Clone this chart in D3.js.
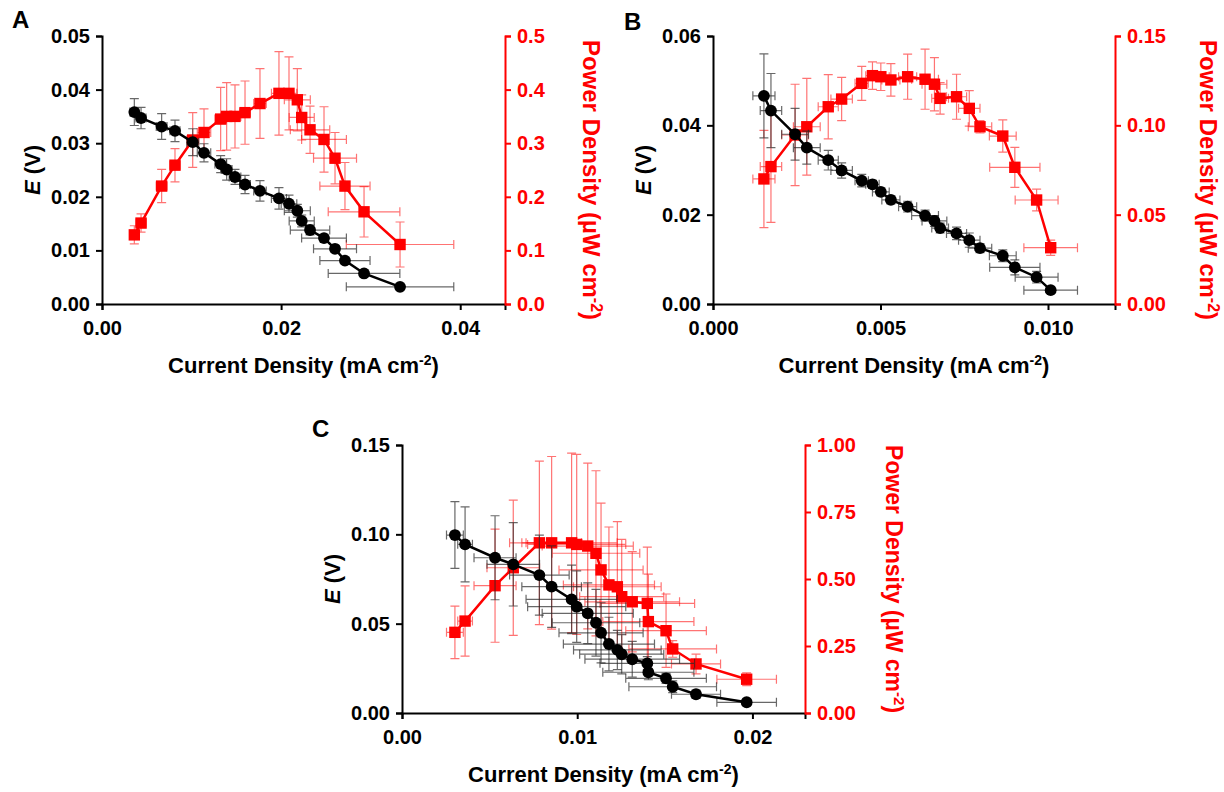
<!DOCTYPE html>
<html>
<head>
<meta charset="utf-8">
<script src="https://cdn.jsdelivr.net/npm/d3@7"></script>
<style>
  body { margin: 0; background: #fff; }
  text { font-family: "Liberation Sans", Arial, sans-serif; font-weight: bold; }
</style>
</head>
<body>
<script>
// ---- panel A ----
var aCurrent = [0.00361, 0.00436, 0.00666, 0.00815, 0.01013, 0.01139, 0.01325, 0.01392, 0.01485, 0.01597, 0.01764,
  0.01976, 0.02088, 0.02181, 0.0223, 0.02323, 0.02479, 0.02602, 0.02713, 0.02926, 0.03328];
var aCurrentErr = [0.0005, 0.00056, 0.0006, 0.00056, 0.00067, 0.00075, 0.00064, 0.0006, 0.00065, 0.0006, 0.0007,
  0.00084, 0.00087, 0.00145, 0.0014, 0.0022, 0.0025, 0.0024, 0.0028, 0.004, 0.006];
var aPotential = [0.0358, 0.0347, 0.0331, 0.0323, 0.0302, 0.0282, 0.0261, 0.0251, 0.0237, 0.0223, 0.0211,
  0.0197, 0.0187, 0.0174, 0.0155, 0.0138, 0.0123, 0.0103, 0.0081, 0.0057, 0.0032];
var aPotentialErr = [0.0025, 0.002, 0.0024, 0.002, 0.0025, 0.0017, 0.0016, 0.002, 0.0014, 0.0017, 0.0019,
  0.002, 0.0016, 0.0012, 0.0011, 0.0009, 0.0007, 0.0006, 0.0005, 0.0004, 0.0003];
var aPower = [0.129, 0.151, 0.220, 0.259, 0.306, 0.320, 0.345, 0.350, 0.350, 0.357, 0.374,
  0.393, 0.393, 0.381, 0.348, 0.325, 0.307, 0.272, 0.220, 0.172, 0.111];
var aPowerErr = [0.017, 0.017, 0.031, 0.031, 0.051, 0.044, 0.059, 0.063, 0.059, 0.059, 0.065,
  0.078, 0.068, 0.058, 0.042, 0.044, 0.061, 0.048, 0.044, 0.047, 0.042];

// ---- panel B ----
var bCurrent = [0.00152, 0.00173, 0.00245, 0.0028, 0.00344, 0.00384, 0.00444, 0.00476, 0.00501, 0.00531, 0.00581,
  0.00633, 0.00661, 0.00678, 0.00727, 0.00765, 0.00797, 0.00865, 0.00901, 0.00966, 0.01008];
var bCurrentErr = [0.00033, 0.00032, 0.0004, 0.0004, 0.0003, 0.00032, 0.0002, 0.0002, 0.00025, 0.00027, 0.00027,
  0.0004, 0.00037, 0.00025, 0.0003, 0.00032, 0.00035, 0.0004, 0.00075, 0.00064, 0.0008];
var bPotential = [0.0466, 0.0433, 0.0380, 0.0350, 0.0322, 0.0299, 0.0276, 0.0268, 0.0251, 0.0233, 0.0218,
  0.0198, 0.0186, 0.0170, 0.0158, 0.0143, 0.0125, 0.0108, 0.0082, 0.0060, 0.0031];
var bPotentialErr = [0.0094, 0.0083, 0.0058, 0.0037, 0.0022, 0.0017, 0.0014, 0.0009, 0.0009, 0.0009, 0.0012,
  0.0012, 0.0012, 0.0011, 0.0014, 0.0016, 0.001, 0.0013, 0.0017, 0.0013, 0.0007];
var bPower = [0.0700, 0.0769, 0.0946, 0.0992, 0.1104, 0.1147, 0.1235, 0.1278, 0.1272, 0.1254, 0.1272,
  0.1258, 0.1230, 0.1151, 0.1160, 0.1095, 0.0992, 0.0940, 0.0765, 0.0582, 0.0315];
var bPowerErr = [0.0272, 0.0312, 0.0284, 0.0271, 0.018, 0.0121, 0.0095, 0.0077, 0.0077, 0.0091, 0.0126,
  0.0168, 0.0149, 0.0088, 0.0126, 0.0099, 0.0035, 0.009, 0.0112, 0.0061, 0.0043];

// ---- panel C ----
var cCurrent = [0.00302, 0.0036, 0.00531, 0.00635, 0.00784, 0.00854, 0.00968, 0.00997, 0.0106, 0.01107, 0.01136,
  0.01181, 0.01229, 0.01254, 0.01314, 0.014, 0.01406, 0.01507, 0.01545, 0.01678, 0.01967];
var cCurrentErr = [0.00048, 0.00042, 0.0012, 0.0015, 0.0017, 0.0017, 0.0026, 0.0028, 0.0026, 0.0025, 0.0024,
  0.0026, 0.0025, 0.0024, 0.0027, 0.0027, 0.0026, 0.0023, 0.0025, 0.0014, 0.0017];
var cPotential = [0.0996, 0.0944, 0.0869, 0.0832, 0.0772, 0.0707, 0.0636, 0.0595, 0.0558, 0.0505, 0.0449,
  0.0386, 0.0353, 0.0329, 0.0301, 0.0278, 0.0228, 0.0194, 0.0147, 0.0105, 0.0060];
var cPotentialErr = [0.0187, 0.021, 0.0235, 0.0233, 0.0224, 0.0228, 0.0192, 0.02, 0.017, 0.0187, 0.0168,
  0.015, 0.011, 0.011, 0.01, 0.0037, 0.0042, 0.0028, 0.0033, 0.0023, 0.0015];
var cPower = [0.301, 0.343, 0.475, 0.542, 0.635, 0.635, 0.635, 0.629, 0.623, 0.596, 0.534,
  0.478, 0.471, 0.434, 0.415, 0.409, 0.341, 0.307, 0.239, 0.183, 0.126];
var cPowerErr = [0.098, 0.131, 0.211, 0.252, 0.305, 0.322, 0.335, 0.336, 0.309, 0.308, 0.249,
  0.216, 0.243, 0.214, 0.187, 0.21, 0.177, 0.137, 0.031, 0.037, 0.024];

var svg = d3.select("body").append("svg")
  .attr("width", 1224)
  .attr("height", 792);

var RED = "#ff0000";

function styleAxis(sel, color) {
  sel.select(".domain").attr("stroke", color).attr("stroke-width", 2);
  sel.selectAll(".tick line").attr("stroke", color).attr("stroke-width", 2);
  sel.selectAll(".tick text")
    .attr("fill", color)
    .style("font-size", "20px")
    .style("font-family", '"Liberation Sans", Arial, sans-serif')
    .style("font-weight", "bold");
}

function drawPanel(p) {
  var x = d3.scaleLinear().domain([0, p.xMax]).range([p.left, p.right]);
  var yE = d3.scaleLinear().domain([0, p.eMax]).range([p.bottom, p.top]);
  var yP = d3.scaleLinear().domain([0, p.pMax]).range([p.bottom, p.top]);
  var g = svg.append("g");

  // axes
  g.append("g")
    .attr("transform", "translate(0," + p.bottom + ")")
    .call(d3.axisBottom(x).tickValues(p.xTicks).tickFormat(d3.format(p.xFmt))
      .tickSizeOuter(0).tickSize(6).tickPadding(11))
    .call(styleAxis, "#000");
  g.append("g")
    .attr("transform", "translate(" + p.left + ",0)")
    .call(d3.axisLeft(yE).tickValues(p.eTicks).tickFormat(d3.format(p.eFmt))
      .tickSizeOuter(0).tickSize(6).tickPadding(6))
    .call(styleAxis, "#000");
  g.append("g")
    .attr("transform", "translate(" + p.right + ",0)")
    .call(d3.axisRight(yP).tickValues(p.pTicks).tickFormat(d3.format(p.pFmt))
      .tickSizeOuter(0).tickSize(6).tickPadding(6))
    .call(styleAxis, RED);

  // titles
  var xt = g.append("text")
    .attr("x", (p.left + p.right) / 2)
    .attr("y", p.bottom + 69)
    .attr("text-anchor", "middle")
    .style("font-size", "22px");
  xt.append("tspan").text("Current Density (mA cm");
  xt.append("tspan").attr("dy", -8).style("font-size", "14px").text("-2");
  xt.append("tspan").attr("dy", 8).text(")");

  var et = g.append("text")
    .attr("transform", "translate(" + (p.left - 62) + "," + (p.top + p.bottom) / 2 + ") rotate(-90)")
    .attr("text-anchor", "middle")
    .style("font-size", "22px");
  et.append("tspan").style("font-style", "italic").text("E");
  et.append("tspan").text(" (V)");

  var pt = g.append("text")
    .attr("transform", "translate(" + (p.right + p.pTitleDx) + "," + ((p.top + p.bottom) / 2 + p.pTitleDy) + ") rotate(90)")
    .attr("text-anchor", "middle")
    .attr("fill", RED)
    .style("font-size", p.pTitleSize + "px");
  pt.append("tspan").text("Power Density (µW cm");
  pt.append("tspan").attr("dy", -8).style("font-size", (p.pTitleSize - 8) + "px").text("-2");
  pt.append("tspan").attr("dy", 8).text(")");

  g.append("text")
    .attr("x", p.labelX)
    .attr("y", p.labelY)
    .style("font-size", "24px")
    .text(p.label);

  var series = [
    { y: yP, v: p.power, err: p.powerErr, color: RED, barColor: "rgba(255,0,0,0.55)", shape: "square" },
    { y: yE, v: p.potential, err: p.potentialErr, color: "#000", barColor: "rgba(40,40,40,0.7)", shape: "circle" }
  ];

  series.forEach(function(s) {
    var pts = p.current.map(function(c, i) {
      return { x: c, xe: p.currentErr[i], v: s.v[i], e: s.err[i] };
    });
    var cap = 4.5;
    var bars = g.append("g").attr("stroke", s.barColor).attr("stroke-width", 1.2).attr("fill", "none");
    pts.forEach(function(d) {
      var cx = x(d.x), cy = s.y(d.v);
      var y0 = s.y(d.v - d.e), y1 = s.y(d.v + d.e);
      var x0 = x(d.x - d.xe), x1 = x(d.x + d.xe);
      bars.append("path").attr("d",
        "M" + cx + "," + y0 + "V" + y1 +
        "M" + (cx - cap) + "," + y0 + "H" + (cx + cap) +
        "M" + (cx - cap) + "," + y1 + "H" + (cx + cap) +
        "M" + x0 + "," + cy + "H" + x1 +
        "M" + x0 + "," + (cy - cap) + "V" + (cy + cap) +
        "M" + x1 + "," + (cy - cap) + "V" + (cy + cap));
    });
    g.append("path")
      .datum(pts)
      .attr("fill", "none")
      .attr("stroke", s.color)
      .attr("stroke-width", 2.5)
      .attr("d", d3.line().x(function(d) { return x(d.x); }).y(function(d) { return s.y(d.v); }));
    var sym = d3.symbol().type(s.shape === "square" ? d3.symbolSquare : d3.symbolCircle)
      .size(s.shape === "square" ? 130 : 110);
    g.selectAll(null)
      .data(pts)
      .enter().append("path")
      .attr("transform", function(d) { return "translate(" + x(d.x) + "," + s.y(d.v) + ")"; })
      .attr("fill", s.color)
      .attr("d", sym);
  });
}

drawPanel({
  label: "A", labelX: 12, labelY: 28,
  left: 102, right: 505, top: 36, bottom: 304, pTitleDx: 78, pTitleDy: 10, pTitleSize: 24,
  xMax: 0.045, xTicks: [0, 0.02, 0.04], xFmt: ".2f",
  eMax: 0.05, eTicks: [0, 0.01, 0.02, 0.03, 0.04, 0.05], eFmt: ".2f",
  pMax: 0.5, pTicks: [0, 0.1, 0.2, 0.3, 0.4, 0.5], pFmt: ".1f",
  current: aCurrent, currentErr: aCurrentErr,
  potential: aPotential, potentialErr: aPotentialErr,
  power: aPower, powerErr: aPowerErr
});

drawPanel({
  label: "B", labelX: 624, labelY: 30,
  left: 713, right: 1115, top: 36, bottom: 304, pTitleDx: 85, pTitleDy: 10, pTitleSize: 24,
  xMax: 0.012, xTicks: [0, 0.005, 0.010], xFmt: ".3f",
  eMax: 0.06, eTicks: [0, 0.02, 0.04, 0.06], eFmt: ".2f",
  pMax: 0.15, pTicks: [0, 0.05, 0.10, 0.15], pFmt: ".2f",
  current: bCurrent, currentErr: bCurrentErr,
  potential: bPotential, potentialErr: bPotentialErr,
  power: bPower, powerErr: bPowerErr
});

drawPanel({
  label: "C", labelX: 312, labelY: 437,
  left: 402, right: 805, top: 445, bottom: 713, pTitleDx: 81, pTitleDy: 0, pTitleSize: 23,
  xMax: 0.023, xTicks: [0, 0.01, 0.02], xFmt: ".2f",
  eMax: 0.15, eTicks: [0, 0.05, 0.10, 0.15], eFmt: ".2f",
  pMax: 1.0, pTicks: [0, 0.25, 0.5, 0.75, 1.0], pFmt: ".2f",
  current: cCurrent, currentErr: cCurrentErr,
  potential: cPotential, potentialErr: cPotentialErr,
  power: cPower, powerErr: cPowerErr
});
</script>
</body>
</html>
